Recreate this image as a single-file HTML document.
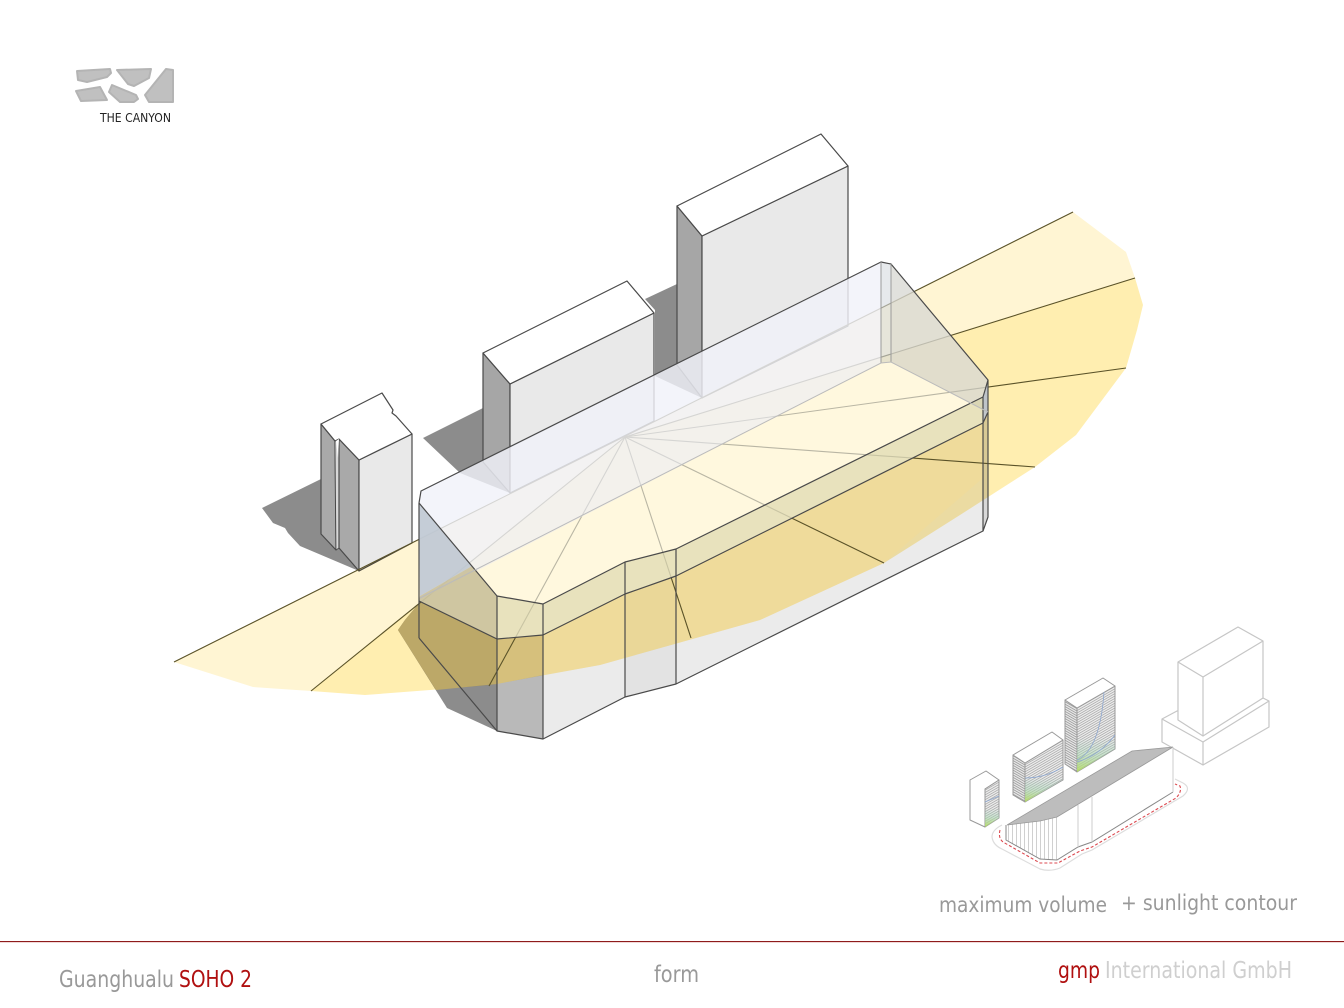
<!DOCTYPE html>
<html><head><meta charset="utf-8"><title>Guanghualu SOHO 2 form</title>
<style>html,body{margin:0;padding:0;background:#fff}svg{display:block}
text{font-family:"DejaVu Sans","Liberation Sans",sans-serif}</style></head>
<body>
<svg width="1344" height="1008" viewBox="0 0 1344 1008" xmlns="http://www.w3.org/2000/svg">
<defs>
<pattern id="hl" width="6" height="2.4" patternUnits="userSpaceOnUse" patternTransform="skewY(30)"><rect width="6" height="2.4" fill="#e6e6e6"/><rect width="6" height=".9" fill="#999"/></pattern>
<pattern id="hr" width="6" height="2.4" patternUnits="userSpaceOnUse" patternTransform="skewY(-30)"><rect width="6" height="2.4" fill="#ececec"/><rect width="6" height=".9" fill="#aaa"/></pattern>
<pattern id="vs" width="4" height="10" patternUnits="userSpaceOnUse"><rect width="4" height="10" fill="#fff"/><rect width="1" height="10" fill="#d0d0d0"/></pattern>
<linearGradient id="gr" x1="0" y1="0" x2="0" y2="1"><stop offset=".6" stop-color="#9fd0c0" stop-opacity="0"/><stop offset=".8" stop-color="#a8d8b0" stop-opacity=".5"/><stop offset="1" stop-color="#b5dc60" stop-opacity=".95"/></linearGradient>
</defs>

<!-- logo -->
<g fill="#c0c0c0" stroke="#b4b4b4" stroke-width="2" stroke-linejoin="round">
<polygon points="77,71 110,69 111,73 107,77 87,82 78,80"/>
<polygon points="117,70 151,69 149,78 134,86 128,84"/>
<polygon points="166,69 173,70 173,102 149,102 145,95"/>
<polygon points="76,91 100,87 107,100 81,101"/>
<polygon points="112,85 136,95 138,99 134,102 120,102 109,92"/>
</g>
<text x="100" y="122" font-size="12.5" fill="#222" textLength="71" lengthAdjust="spacingAndGlyphs">THE CANYON</text>

<!-- ground shadows -->
<g fill="#8c8c8c">
<polygon points="262,508 321,479 359,571 300,546 288,533 285,528 273,523"/>
<polygon points="423,438 483,408 483,462 510,493 460,473"/>
<polygon points="645,299 677,284 677,365 702,398 655,376 655,310"/>
<polygon points="398,630 405,620 420,602 497,639 497,731 447,708"/>
</g>

<!-- building 1 -->
<g stroke="#4a4a4a" stroke-width="1.2" stroke-linejoin="round">
<polygon points="321,424 335,441 336,550 321,534" fill="#a9a9a9"/>
<polygon points="335,441 339,439 339,548 336,550" fill="#d8d8d8" stroke-width=".8"/>
<polygon points="339,439 359,460 359,571 339,548" fill="#a9a9a9"/>
<polygon points="359,460 412,434 412,543 359,571" fill="#e9e9e9"/>
<polygon points="321,424 382,393 393,410 392,413 396,416 412,434 359,460 339,439 335,441" fill="#fff"/>
</g>
<polygon points="336,441 339,439 338,458" fill="#fff"/>

<!-- building 2 -->
<g stroke="#4a4a4a" stroke-width="1.2" stroke-linejoin="round">
<polygon points="483,353 510,384 510,493 483,462" fill="#a6a6a6"/>
<polygon points="510,384 654,313 654,421 510,493" fill="#e9e9e9"/>
<polygon points="483,353 627,281 654,313 510,384" fill="#fff"/>
</g>
<!-- building 3 -->
<g stroke="#4a4a4a" stroke-width="1.2" stroke-linejoin="round">
<polygon points="677,206 702,236 702,398 677,365" fill="#a6a6a6"/>
<polygon points="702,236 848,166 848,326 702,398" fill="#e9e9e9"/>
<polygon points="677,206 821,134 848,166 702,236" fill="#fff"/>
</g>

<!-- front faces of podium -->
<polygon points="543,635 625,594 625,697 543,739" fill="#ebebeb"/>
<polygon points="497,639 543,635 543,739 497,731" fill="#b9b9b9"/>
<polygon points="625,594 676,576 676,684 625,697" fill="#e3e3e3"/>
<polygon points="676,576 983,423 983,531 676,684" fill="#ebebeb"/>
<polygon points="983,423 988,412 988,517 983,531" fill="#d8d8d8"/>

<!-- sun contour -->
<g style="mix-blend-mode:multiply">
<polygon points="174,662 253,687 311,691 625,437" fill="#fff5d3"/>
<polygon points="311,691 365,695 430,690 490,685 600,665 760,620 884,563 960,515 1035,467 1076,435 1126,368 1137,330 1143,305 1135,278 625,437" fill="#ffeeb0"/>
<polygon points="1135,278 1126,252 1073,212 625,437" fill="#fff5d3"/>
</g>
<!-- tint under the wall -->
<polygon points="543,635 625,594 676,576 983,423 983,478 884,563 760,620 600,665 543,675" fill="#f6dc90" opacity=".4"/>
<!-- shadow and column seen through the sun contour -->
<polygon points="398,630 405,620 420,602 497,639 497,684 436,690" fill="#bca868"/>
<polygon points="497,639 543,635 543,675 497,684" fill="#d6c07c"/>

<!-- rays -->
<g stroke="#5a5228" stroke-width="1.1" fill="none">
<line x1="174" y1="662" x2="1073" y2="212"/>
<line x1="625" y1="437" x2="311" y2="691"/>
<line x1="625" y1="437" x2="489" y2="686"/>
<line x1="625" y1="437" x2="691" y2="638"/>
<line x1="625" y1="437" x2="884" y2="563"/>
<line x1="625" y1="437" x2="1035" y2="467"/>
<line x1="625" y1="437" x2="1126" y2="368"/>
<line x1="625" y1="437" x2="1135" y2="278"/>
</g>

<!-- glass volume -->
<polygon points="421,491 881,262 881,363 420,600 419,503" fill="#f0f2f9" fill-opacity=".82"/>
<polygon points="420,600 881,363 891,362 988,412 983,423 676,576 625,594 543,635 497,639 419,601" fill="#fff" fill-opacity=".58"/>
<polygon points="881,262 891,264 891,362 881,363" fill="#d6dae0" fill-opacity=".6"/>
<polygon points="891,264 988,380 988,412 891,362" fill="#d9d9d3" fill-opacity=".78"/>
<polygon points="419,503 472,566 420,596" fill="#bcc6d0" fill-opacity=".85"/>
<polygon points="420,596 472,566 497,596 497,639 419,601" fill="#c7bd97" fill-opacity=".85"/>
<polygon points="497,596 543,604 625,562 676,549 983,397 983,423 676,576 625,594 543,635 497,639" fill="#d5cfa2" fill-opacity=".55"/>
<polygon points="983,397 988,380 988,412 983,423" fill="#b9c0c8" fill-opacity=".85"/>

<!-- podium linework -->
<g fill="none" stroke="#4a4a4a" stroke-width="1.2" stroke-linejoin="round">
<polyline points="419,503 421,491 881,262 891,264 988,380 983,397 676,549 625,562 543,604 497,596 419,503"/>
<polyline points="419,601 497,639 543,635 625,594 676,576 983,423 988,412"/>
<polyline points="419,638 497,731 543,739 625,697 676,684 983,531 988,517 988,380"/>
<line x1="419" y1="503" x2="419" y2="638"/>
<line x1="497" y1="596" x2="497" y2="731"/>
<line x1="543" y1="604" x2="543" y2="739"/>
<line x1="625" y1="562" x2="625" y2="697"/>
<line x1="676" y1="549" x2="676" y2="684"/>
<line x1="983" y1="397" x2="983" y2="531"/>
</g>
<g fill="none" stroke="#9a9a9a" stroke-width="1">
<line x1="881" y1="262" x2="881" y2="363"/>
<line x1="891" y1="264" x2="891" y2="362"/>
<polyline points="420,598 881,363 891,362 988,412" stroke="#bbb"/>
</g>

<!-- inset: ghost block -->
<g fill="#fff" stroke="#c6c6c6" stroke-width="1.2" stroke-linejoin="round">
<polygon points="1162,719 1177,711 1263,698 1269,701 1269,727 1203,765 1162,742"/>
<polyline points="1162,719 1203,742 1269,701" fill="none"/>
<line x1="1203" y1="742" x2="1203" y2="765"/>
<polygon points="1178,662 1238,627 1263,641 1263,698 1203,736 1178,720"/>
<polyline points="1178,662 1203,677 1263,641" fill="none"/>
<line x1="1203" y1="677" x2="1203" y2="736"/>
</g>
<!-- inset: towers -->
<g stroke="#999" stroke-width="1" stroke-linejoin="round">
<polygon points="970,780 986,771 999,780 985,789 985,827 970,820" fill="#fff"/>
<polygon points="985,789 999,780 999,818 985,827" fill="url(#hr)"/>
<polygon points="985,789 999,780 999,818 985,827" fill="url(#gr)" stroke="none"/>
<polygon points="1013,755 1025,763 1025,802 1013,795" fill="url(#hl)"/>
<polygon points="1025,763 1063,740 1063,780 1025,802" fill="url(#hr)"/>
<polygon points="1025,763 1063,740 1063,780 1025,802" fill="url(#gr)" stroke="none"/>
<polygon points="1013,755 1052,732 1063,740 1025,763" fill="#fff"/>
<polygon points="1065,700 1077,708 1077,772 1065,764" fill="url(#hl)"/>
<polygon points="1077,708 1115,686 1115,749 1077,772" fill="url(#hr)"/>
<polygon points="1077,708 1115,686 1115,749 1077,772" fill="url(#gr)" stroke="none"/>
<polygon points="1065,700 1103,678 1115,686 1077,708" fill="#fff"/>
</g>
<g fill="none" stroke="#8fa8d0" stroke-width=".8">
<path d="M985 802 L999 796"/><path d="M1025 778 Q1045 778 1063 767"/><path d="M1077 760 Q1100 750 1104 692"/><path d="M1077 762 Q1100 755 1115 735"/>
</g>
<!-- inset: low building -->
<path d="M992 837 Q992 830 1002 825 M992 837 Q993 845 1002 849 L1040 869 Q1050 872 1060 868 L1082 854 L1092 850 L1183 796 Q1192 788 1183 783 L1175 779" fill="none" stroke="#ddd" stroke-width="1.2"/>
<polygon points="1007,825 1040,821 1057,817 1057,860 1040,859 1006,840" fill="url(#vs)"/>
<polygon points="1057,817 1173,747 1173,792 1092,842 1078,847 1057,860" fill="#fff"/>
<polygon points="1007,825 1132,751 1173,747 1057,817 1040,821" fill="#bdbdbd" stroke="#999" stroke-width=".8"/>
<g fill="none" stroke="#aaa" stroke-width="1">
<polyline points="1006,825 1006,840 1040,859 1057,860 1078,847 1092,842 1173,792" stroke="#888"/>
<line x1="1173" y1="747" x2="1173" y2="792" stroke="#ccc"/>
<line x1="1078" y1="805" x2="1078" y2="847" stroke="#ccc"/>
<line x1="1092" y1="797" x2="1092" y2="842" stroke="#ccc"/>
</g>
<path d="M1000 830 Q998 838 1003 842 L1040 863 L1058 863 L1080 851 L1092 847 L1176 798 Q1182 792 1180 786 L1175 784" fill="none" stroke="#dc4a50" stroke-width="1.1" stroke-dasharray="3 2"/>

<!-- labels -->
<text x="939" y="912" font-size="21" fill="#999" textLength="168" lengthAdjust="spacingAndGlyphs">maximum volume</text>
<text x="1121" y="910" font-size="21" fill="#999" textLength="176" lengthAdjust="spacingAndGlyphs">+ sunlight contour</text>

<rect x="0" y="941" width="1344" height="1" fill="#8e1c1c"/>
<rect x="0" y="942" width="1344" height="1" fill="#f2d8d8"/>

<text x="59" y="987" font-size="23" fill="#999" textLength="115" lengthAdjust="spacingAndGlyphs">Guanghualu</text>
<text x="179" y="987" font-size="23" fill="#b01010" textLength="73" lengthAdjust="spacingAndGlyphs">SOHO 2</text>
<text x="654" y="982" font-size="23" fill="#999" textLength="45" lengthAdjust="spacingAndGlyphs">form</text>
<text x="1058" y="978" font-size="23" fill="#b01010" textLength="42" lengthAdjust="spacingAndGlyphs">gmp</text>
<text x="1105" y="978" font-size="23" fill="#cfcfcf" textLength="187" lengthAdjust="spacingAndGlyphs">International GmbH</text>
</svg>
</body></html>
